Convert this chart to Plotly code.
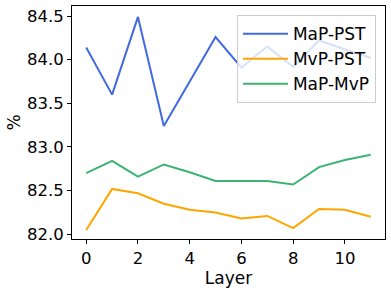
import plotly.graph_objects as go

layers = list(range(12))
map_pst = [84.14, 83.60, 84.49, 83.24, 83.75, 84.26, 83.91, 84.15, 83.92, 84.22, 84.12, 84.02]
mvp_pst = [82.05, 82.52, 82.47, 82.35, 82.28, 82.25, 82.18, 82.21, 82.07, 82.29, 82.28, 82.20]
map_mvp = [82.70, 82.84, 82.66, 82.80, 82.71, 82.61, 82.61, 82.61, 82.57, 82.77, 82.85, 82.91]

series_names = ["MaP-PST", "MvP-PST", "MaP-MvP"]
series_colors = ["#4169E1", "#FFA500", "#3CB371"]
x_ticks = [0, 2, 4, 6, 8, 10]
y_ticks = [82.0, 82.5, 83.0, 83.5, 84.0, 84.5]

font = "DejaVu Sans"
fig = go.Figure()
for name, vals, col in zip(series_names, [map_pst, mvp_pst, map_mvp], series_colors):
    fig.add_trace(go.Scatter(x=layers, y=vals, mode="lines", name=name,
                             line=dict(color=col, width=2)))

fig.update_layout(
    width=391, height=289,
    margin=dict(l=72, r=6, t=6, b=50, autoexpand=False),
    plot_bgcolor="white", paper_bgcolor="white",
    font=dict(family=font, size=16, color="black"),
    showlegend=True,
    legend=dict(x=0.971, y=0.961, xanchor="right", yanchor="top",
                bgcolor="rgba(255,255,255,0.8)", bordercolor="#cccccc", borderwidth=1,
                font=dict(family=font, size=17, color="black"),
                itemwidth=45, tracegroupgap=0),
    xaxis=dict(range=[-0.55, 11.55], tickvals=x_ticks, ticktext=[str(v) for v in x_ticks],
               automargin=False,
               showgrid=False, zeroline=False, showline=True, mirror=True,
               linecolor="black", linewidth=1, ticks="outside", ticklen=4, tickcolor="black",
               tickfont=dict(family=font, size=16.5),
               title=dict(text="Layer", font=dict(family=font, size=17), standoff=2)),
    yaxis=dict(range=[81.946, 84.615], tickvals=y_ticks, ticktext=[f"{v:.1f}" for v in y_ticks],
               automargin=False,
               showgrid=False, zeroline=False, showline=True, mirror=True,
               linecolor="black", linewidth=1, ticks="outside", ticklen=4, tickcolor="black",
               tickfont=dict(family=font, size=16.5),
               title=dict(text="%", font=dict(family=font, size=17), standoff=2)),
)

fig.write_html("out.html", config={"displayModeBar": False},
               post_script="document.body.style.margin='0';document.body.style.overflow='hidden';")
